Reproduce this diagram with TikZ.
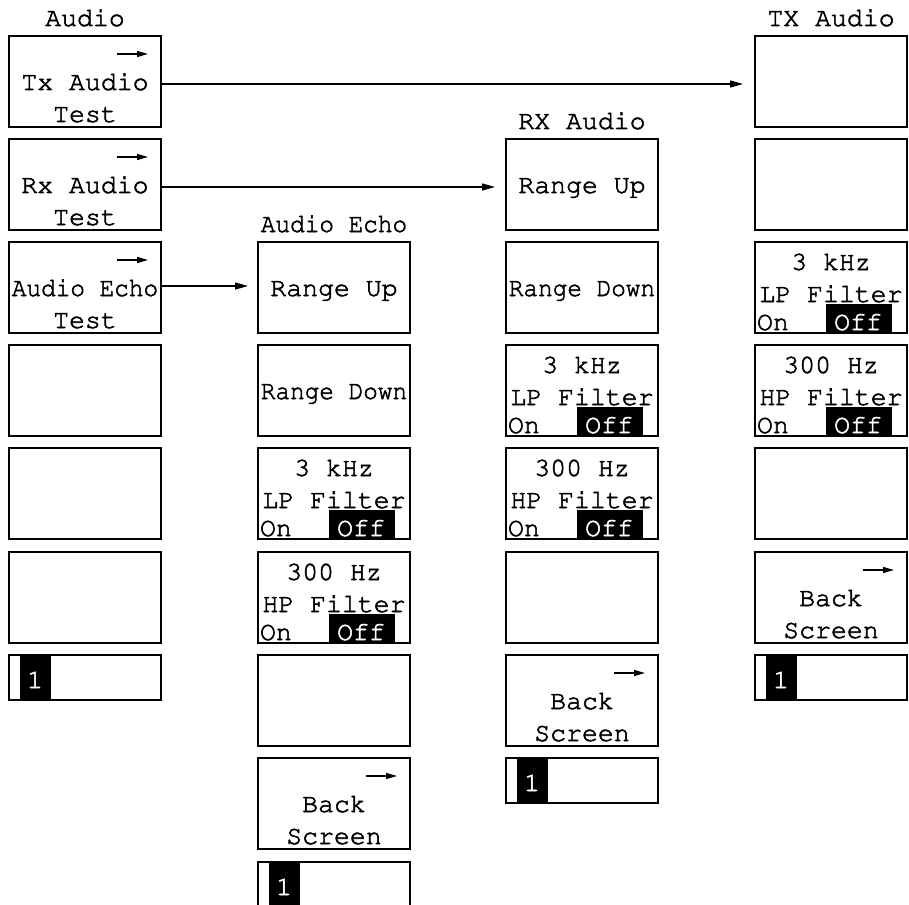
\documentclass[tikz,border=0pt]{standalone}
\usepackage[T1]{fontenc}
\usepackage{graphicx}
\usetikzlibrary{arrows.meta}
\newcommand\cour{\fontsize{26.5}{32}\fontfamily{pcr}\selectfont\special{pdf:literal direct 2 Tr 0.55 w}}
\newcommand\cond[1]{\scalebox{0.92}[1]{#1}}
\tikzset{
 box/.style={draw,line width=1.3pt,minimum width=152pt,minimum height=91pt,inner sep=0pt,outer sep=0pt,anchor=north west},
 sbox/.style={box,minimum height=45pt},
 txt/.style={inner sep=0pt,outer sep=0pt,anchor=base,font=\cour},
 conn/.style={line width=1.3pt,-{Triangle[length=13pt,width=7pt]}},
 mini/.style={line width=1.3pt,-{Triangle[length=11pt,width=6pt]}},
 blk/.style={fill=black,inner sep=0pt,outer sep=0pt},
}
\newcommand\emptybox[3]{\node[box] (#1) at (#2,#3) {};}
\newcommand\onebox[4]{\node[box] (#1) at (#2,#3) {};
  \node[txt] (#1a) at ([yshift=-54pt]#1.north) {#4};}
\newcommand\arrbox[5]{\node[box] (#1) at (#2,#3) {};
  \coordinate (#1p) at ([xshift=-44pt,yshift=-18pt]#1.north east);
  \coordinate (#1q) at ([xshift=-13pt,yshift=-18pt]#1.north east);
  \draw[mini] (#1p) -- (#1q);
  \node[txt] (#1a) at ([yshift=-54pt]#1.north) {#4};
  \node[txt] (#1b) at ([yshift=-86pt]#1.north) {#5};}
\newcommand\filtbox[5]{\node[box] (#1) at (#2,#3) {};
  \node[txt] (#1a) at ([yshift=-28pt]#1.north) {#4};
  \node[txt] (#1b) at ([yshift=-60pt]#1.north) {#5};
  \node[txt,anchor=base west] (#1c) at ([xshift=2pt,yshift=-88pt]#1.north west) {On};
  \node[blk,minimum width=66pt,minimum height=29pt,anchor=south west] (#1d) at ([xshift=71pt]#1.south west) {};
  \node[txt,text=white] (#1e) at ([xshift=103pt,yshift=-88pt]#1.north west) {Off};}
\newcommand\numbox[3]{\node[sbox] (#1) at (#2,#3) {};
  \node[blk,minimum width=31pt,minimum height=45pt,anchor=north west] (#1k) at ([xshift=11pt]#1.north west) {};
  \node[txt,text=white] (#1n) at ([xshift=26pt,yshift=-33pt]#1.north west) {1};}
\begin{document}
\begin{tikzpicture}[x=1pt,y=-1pt]
\useasboundingbox (0,0) rectangle (909,904);
\clip (0,0) rectangle (909,904);
% column 1
\node[txt] (ta) at (85,26) {Audio};
\arrbox{a0}{9}{36}{Tx Audio}{Test}
\arrbox{a1}{9}{139}{Rx Audio}{Test}
\arrbox{a2}{9}{242}{\cond{Audio Echo}}{Test}
\emptybox{a3}{9}{345}
\emptybox{a4}{9}{448}
\emptybox{a5}{9}{552}
\numbox{a6}{9}{655}
% column 2
\node[txt] (tb) at (334,232) {\cond{Audio Echo}};
\onebox{b2}{258}{242}{Range Up}
\onebox{b3}{258}{345}{\cond{Range Down}}
\filtbox{b4}{258}{448}{3 kHz}{LP Filter}
\filtbox{b5}{258}{552}{300 Hz}{HP Filter}
\emptybox{b6}{258}{655}
\arrbox{b7}{258}{758}{Back}{Screen}
\numbox{b8}{258}{862}
% column 3
\node[txt] (tc) at (582,129) {RX Audio};
\onebox{c1}{506}{139}{Range Up}
\onebox{c2}{506}{242}{\cond{Range Down}}
\filtbox{c3}{506}{345}{3 kHz}{LP Filter}
\filtbox{c4}{506}{448}{300 Hz}{HP Filter}
\emptybox{c5}{506}{552}
\arrbox{c6}{506}{655}{Back}{Screen}
\numbox{c7}{506}{758}
% column 4
\node[txt] (td) at (831,26) {TX Audio};
\emptybox{d0}{755}{36}
\emptybox{d1}{755}{139}
\filtbox{d2}{755}{242}{3 kHz}{LP Filter}
\filtbox{d3}{755}{345}{300 Hz}{HP Filter}
\emptybox{d4}{755}{448}
\arrbox{d5}{755}{552}{Back}{Screen}
\numbox{d6}{755}{655}
% connectors
\draw[conn] ([yshift=-2.5pt]a0.east) -- ([xshift=-12pt,yshift=-2.5pt]d0.west);
\draw[conn] ([yshift=-2.5pt]a1.east) -- ([xshift=-11pt,yshift=-2.5pt]c1.west);
\draw[conn] ([yshift=1.5pt]a2.east) -- ([xshift=-10pt,yshift=1.5pt]b2.west);
\end{tikzpicture}
\end{document}
